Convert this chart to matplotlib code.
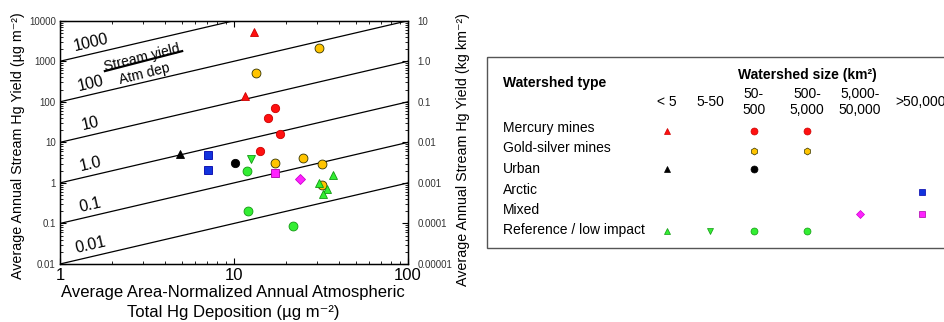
import matplotlib
matplotlib.use("Agg")
import matplotlib.pyplot as plt
from matplotlib.ticker import FixedLocator, FixedFormatter, LogLocator, NullFormatter
from matplotlib.patches import Rectangle
import numpy as np

plt.rcParams['font.family'] = ['Liberation Sans', 'DejaVu Sans']

# ---------------- data ----------------
ratio_lines = [1000, 100, 10, 1, 0.1, 0.01]
ratio_labels = ["1000", "100", "10", "1.0", "0.1", "0.01"]

hg_mine_small_x = [13.1, 11.6]
hg_mine_small_y = [5400, 143]
hg_mine_circ_x = [17.2, 15.7, 18.3, 14.2]
hg_mine_circ_y = [69, 40, 16, 6.0]
gold_x = [30.8, 13.4, 17.3, 25.0, 32.2, 32.2]
gold_y = [2090, 505, 3.05, 4.0, 2.9, 0.88]
urban_tri_x = [4.87]
urban_tri_y = [5.2]
urban_circ_x = [10.1]
urban_circ_y = [3.05]
arctic_x = [7.06, 7.06]
arctic_y = [4.9, 2.03]
mixed_sq_x = [17.1]
mixed_sq_y = [1.71]
mixed_dia_x = [23.9]
mixed_dia_y = [1.26]
ref_tri_x = [36.9, 30.8, 34.1, 32.6]
ref_tri_y = [1.55, 1.0, 0.70, 0.53]
ref_dtri_x = [12.5]
ref_dtri_y = [3.86]
ref_circ_x = [11.8, 12.0, 21.9]
ref_circ_y = [2.0, 0.20, 0.088]

left_ticks = [1e4, 1e3, 1e2, 10, 1, 0.1, 0.01]
left_tick_labels = ["10000", "1000", "100", "10", "1", "0.1", "0.01"]
right_ticks = [10, 1, 0.1, 0.01, 0.001, 0.0001, 0.00001]
right_tick_labels = ["10", "1.0", "0.1", "0.01", "0.001", "0.0001", "0.00001"]
x_ticks = [1, 10, 100]
x_tick_labels = ["1", "10", "100"]

size_cols = ["< 5", "5-50", "50-\n500", "500-\n5,000", "5,000-\n50,000", ">50,000"]
type_rows = ["Mercury mines", "Gold-silver mines", "Urban", "Arctic", "Mixed",
             "Reference / low impact"]

RED = '#ff1010'
GOLD = '#ffc400'
GREEN = '#33ee33'
BLUE = '#1133dd'
MAG = '#ff22ff'

W, H = 944, 322
fig = plt.figure(figsize=(W / 100, H / 100), dpi=100)

# main axes in pixel geometry
x0, x1, y0, y1 = 60, 408, 20.7, 264
ax = fig.add_axes([x0 / W, (H - y1) / H, (x1 - x0) / W, (y1 - y0) / H])
ax.set_xscale('log')
ax.set_yscale('log')
ax.set_xlim(1, 100)
ax.set_ylim(0.01, 10000)

xx = np.logspace(0, 2, 50)
for r, lab in zip(ratio_lines, ratio_labels):
    ax.plot(xx, r * xx, color='black', lw=0.9, zorder=1)
    ax.text(1.5, r * 1.5 * 1.9, lab, rotation=13, ha='center', va='center',
            fontsize=11.5, zorder=2)

# fraction annotation
ax.plot([0.129, 0.351], [0.793, 0.875], transform=ax.transAxes, color='black', lw=1.6)
ax.text(0.236, 0.848, "Stream yield", transform=ax.transAxes, rotation=14,
        ha='center', va='center', fontsize=10)
ax.text(0.244, 0.782, "Atm dep", transform=ax.transAxes, rotation=14,
        ha='center', va='center', fontsize=10)

def pts(x, y, marker, color, ec, ms, z=3):
    ax.plot(x, y, linestyle='none', marker=marker, color=color, mec=ec,
            mew=0.6, ms=ms, zorder=z, clip_on=False)

pts(hg_mine_small_x, hg_mine_small_y, '^', RED, '#cc0000', 6)
pts(hg_mine_circ_x, hg_mine_circ_y, 'o', RED, '#cc0000', 6)
pts(gold_x, gold_y, 'o', GOLD, '#333300', 6.4)
pts(urban_tri_x, urban_tri_y, '^', 'black', 'black', 5.5)
pts(urban_circ_x, urban_circ_y, 'o', 'black', 'black', 6)
pts(arctic_x, arctic_y, 's', BLUE, '#0000aa', 5.3)
pts(mixed_sq_x, mixed_sq_y, 's', MAG, '#aa00aa', 5.3)
pts(mixed_dia_x, mixed_dia_y, 'D', MAG, '#cc00cc', 5.3)
pts(ref_tri_x, ref_tri_y, '^', GREEN, '#119911', 6, z=4)
pts(ref_dtri_x, ref_dtri_y, 'v', GREEN, '#119911', 6)
pts(ref_circ_x, ref_circ_y, 'o', GREEN, '#119911', 6.4)

ax.yaxis.set_major_locator(FixedLocator(left_ticks))
ax.yaxis.set_major_formatter(FixedFormatter(left_tick_labels))
ax.yaxis.set_minor_locator(LogLocator(base=10, subs=np.arange(2, 10)))
ax.yaxis.set_minor_formatter(NullFormatter())
ax.xaxis.set_major_locator(FixedLocator(x_ticks))
ax.xaxis.set_major_formatter(FixedFormatter(x_tick_labels))
ax.xaxis.set_minor_locator(LogLocator(base=10, subs=np.arange(2, 10)))
ax.xaxis.set_minor_formatter(NullFormatter())
ax.tick_params(axis='both', which='both', direction='in', top=True)
ax.tick_params(axis='y', which='major', labelsize=7, length=4, pad=3, labelcolor='#333333')
ax.tick_params(axis='y', which='minor', length=2)
ax.tick_params(axis='x', which='major', labelsize=12, length=4, pad=3)
ax.tick_params(axis='x', which='minor', length=2.5)
for s in ax.spines.values():
    s.set_linewidth(1.0)

fig.text(233 / W, 1 - 292 / H, "Average Area-Normalized Annual Atmospheric",
         ha='center', va='center', fontsize=12)
fig.text(233 / W, 1 - 312 / H, "Total Hg Deposition (\u00b5g m\u207b\u00b2)",
         ha='center', va='center', fontsize=12)

fig.text(18 / W, 1 - 146 / H, "Average Annual Stream Hg Yield (\u00b5g m\u207b\u00b2)",
         rotation=90, ha='center', va='center', fontsize=10.3)

ax2 = ax.twinx()
ax2.set_yscale('log')
ax2.set_ylim(1e-5, 10)
ax2.yaxis.set_major_locator(FixedLocator(right_ticks))
ax2.yaxis.set_major_formatter(FixedFormatter(right_tick_labels))
ax2.yaxis.set_minor_locator(LogLocator(base=10, subs=np.arange(2, 10)))
ax2.yaxis.set_minor_formatter(NullFormatter())
ax2.tick_params(axis='y', which='both', direction='in')
ax2.tick_params(axis='y', which='major', labelsize=7, length=4, pad=7, labelcolor='#333333')
ax2.tick_params(axis='y', which='minor', length=2)
fig.text(463 / W, 1 - 150 / H, "Average Annual Stream Hg Yield (kg km\u207b\u00b2)",
         rotation=90, ha='center', va='center', fontsize=10.3)

# ---------------- legend panel (pixel coordinates) ----------------
lg = fig.add_axes([0, 0, 1, 1])
lg.set_xlim(0, W)
lg.set_ylim(H, 0)
lg.axis('off')
lg.add_patch(Rectangle((487, 57), 470, 191, fill=False, ec='#555555', lw=1.0, clip_on=False))
lg.text(503, 83, "Watershed type", fontsize=10, fontweight='bold', ha='left', va='center')
lg.text(807, 75, "Watershed size (km\u00b2)", fontsize=10, fontweight='bold',
        ha='center', va='center')
col_x = [667, 710, 754, 807, 860, 922]
for i, (cx, lab) in enumerate(zip(col_x, size_cols)):
    if i == 5:
        lg.text(895, 102, lab, fontsize=10, ha='left', va='center')
    else:
        lg.text(cx, 102, lab, fontsize=10, ha='center', va='center', linespacing=1.1)
row_y = [128, 148, 169, 190, 210, 230]
for ry, lab in zip(row_y, type_rows):
    lg.text(503, ry, lab, fontsize=10, ha='left', va='center')

def key(cx, cy, marker, color, ec, ms=5.0):
    lg.plot([cx], [cy], linestyle='none', marker=marker, color=color, mec=ec, mew=0.5, ms=ms)

key(col_x[0], 131, '^', RED, '#cc0000')
key(col_x[2], 131, 'o', RED, '#cc0000')
key(col_x[3], 131, 'o', RED, '#cc0000')
key(col_x[2], 151, 'h', GOLD, '#333300')
key(col_x[3], 151, 'h', GOLD, '#333300')
key(col_x[0], 169, '^', 'black', 'black')
key(col_x[2], 169, 'o', 'black', 'black')
key(col_x[5], 192, 's', BLUE, '#0000aa', 4.4)
key(col_x[4], 214, 'D', MAG, '#cc00cc', 4.2)
key(col_x[5], 214, 's', MAG, '#aa00aa', 4.4)
key(col_x[0], 231, '^', GREEN, '#119911')
key(col_x[1], 231, 'v', GREEN, '#119911')
key(col_x[2], 231, 'o', GREEN, '#119911')
key(col_x[3], 231, 'o', GREEN, '#119911')

fig.savefig("out.png", dpi=100)
